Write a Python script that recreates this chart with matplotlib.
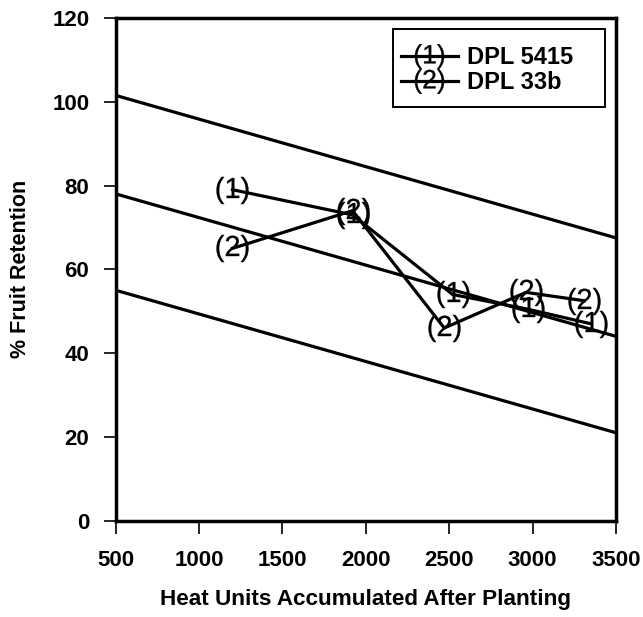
import matplotlib
matplotlib.use("Agg")
import matplotlib.pyplot as plt
from matplotlib.lines import Line2D
from matplotlib.patches import Rectangle

plt.rcParams['font.family'] = ['Liberation Sans', 'DejaVu Sans']
plt.rcParams['mathtext.fontset'] = 'custom'
plt.rcParams['mathtext.rm'] = 'Liberation Sans'
plt.rcParams['mathtext.it'] = 'Liberation Sans'

# Data
heat_units_1 = [1200, 1920, 2520, 2970, 3350]
retention_1 = [79, 73, 54, 50.5, 47]
heat_units_2 = [1200, 1920, 2470, 2960, 3310]
retention_2 = [65, 74, 46, 54.5, 52.5]

reg_x = [500, 3500]
reg_upper = [101.5, 67.5]
reg_mid = [78, 44]
reg_lower = [55, 21]

labels = ['DPL 5415', 'DPL 33b']
x_ticks = [500, 1000, 1500, 2000, 2500, 3000, 3500]
y_ticks = [0, 20, 40, 60, 80, 100, 120]

fig = plt.figure(figsize=(6.43, 6.17), dpi=100)
ax = fig.add_axes([0.180, 0.156, 0.778, 0.815])

for ys in (reg_upper, reg_mid, reg_lower):
    ax.plot(reg_x, ys, color='black', lw=2.3, solid_capstyle='butt')

ax.plot(heat_units_1, retention_1, color='black', lw=2.3,
        marker='$(1)$', markersize=23, markeredgewidth=0.2, mfc='black', mec='black')
ax.plot(heat_units_2, retention_2, color='black', lw=2.3,
        marker='$(2)$', markersize=23, markeredgewidth=0.2, mfc='black', mec='black')

ax.set_xlim(500, 3500)
ax.set_ylim(0, 120)
ax.set_xticks(x_ticks)
ax.set_yticks(y_ticks)
ax.tick_params(direction='out', length=9, width=1.2, labelsize=16)
ax.tick_params(axis='x', pad=12)
ax.tick_params(axis='y', pad=10)
for lab in ax.get_xticklabels() + ax.get_yticklabels():
    lab.set_fontweight('bold')
for s in ax.spines.values():
    s.set_linewidth(2.5)

ax.set_xlabel('Heat Units Accumulated After Planting', fontsize=16.2, fontweight='bold', labelpad=13)
ax.set_ylabel('% Fruit Retention', fontsize=15.5, fontweight='bold', labelpad=15)

# legend frame (drawn separately so its box can be wider than the entries)
ax.add_patch(Rectangle((0.554, 0.822), 0.424, 0.155, transform=ax.transAxes,
                       fill=True, facecolor='white', edgecolor='black', lw=1.4, zorder=4))

handles = [
    Line2D([], [], color='black', lw=2.3, marker='$(1)$', markersize=21, markeredgewidth=0.2),
    Line2D([], [], color='black', lw=2.3, marker='$(2)$', markersize=21, markeredgewidth=0.2),
]
leg = ax.legend(handles, labels, loc='upper left', bbox_to_anchor=(0.57, 0.944),
                prop={'size': 17, 'weight': 'bold'}, frameon=False,
                handlelength=2.4, handletextpad=0.4,
                borderpad=0.0, labelspacing=0.1, borderaxespad=0.0)
leg.set_zorder(5)

fig.savefig('out.png', dpi=100)
